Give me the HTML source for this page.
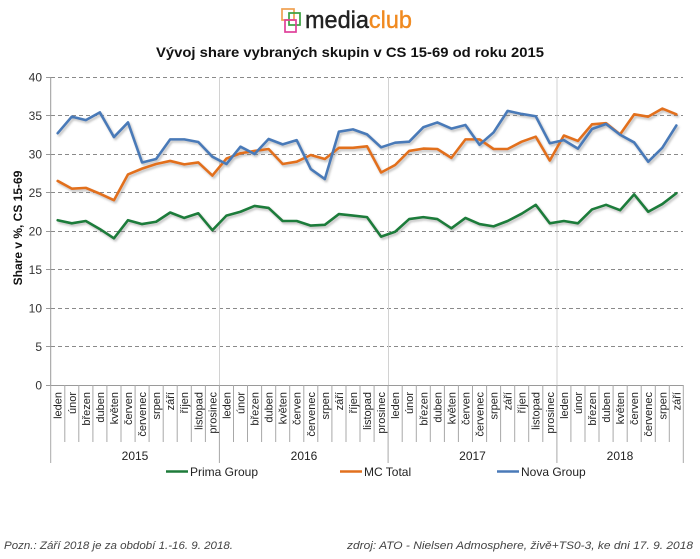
<!DOCTYPE html>
<html><head><meta charset="utf-8">
<style>
html,body{margin:0;padding:0;background:#fff;}
svg{display:block;}
text{font-family:"Liberation Sans",Arial,sans-serif;}
</style></head>
<body>
<svg width="700" height="559" viewBox="0 0 700 559" xmlns="http://www.w3.org/2000/svg">
<defs>
<filter id="sh" x="-5%" y="-5%" width="110%" height="120%">
<feDropShadow dx="1.5" dy="2" stdDeviation="1" flood-color="#777" flood-opacity="0.45"/>
</filter>
</defs>
<rect width="700" height="559" fill="#fff"/>

<!-- logo -->
<g fill="none" stroke-width="1.7">
<rect x="282" y="9" width="12" height="11" stroke="#f0a050"/>
<rect x="289" y="13" width="11" height="12" stroke="#3aa040"/>
<rect x="285" y="20" width="11" height="12" stroke="#e0409a"/>
</g>
<text x="305" y="28" font-size="24" textLength="107" lengthAdjust="spacingAndGlyphs" fill="#222" stroke="#222" stroke-width="0.4">media<tspan fill="#f08a20" stroke="#f08a20">club</tspan></text>

<!-- title -->
<text x="350" y="57" font-size="13.5" font-weight="bold" text-anchor="middle" textLength="388" lengthAdjust="spacingAndGlyphs" fill="#111">Vývoj share vybraných skupin v CS 15-69 od roku 2015</text>

<!-- gridlines -->
<g stroke="#8a8a8a" stroke-width="1" stroke-dasharray="4,3">
<line x1="51" y1="77.5" x2="683" y2="77.5"/>
<line x1="51" y1="115.5" x2="683" y2="115.5"/>
<line x1="51" y1="154.5" x2="683" y2="154.5"/>
<line x1="51" y1="192.5" x2="683" y2="192.5"/>
<line x1="51" y1="231.5" x2="683" y2="231.5"/>
<line x1="51" y1="269.5" x2="683" y2="269.5"/>
<line x1="51" y1="308.5" x2="683" y2="308.5"/>
<line x1="51" y1="346.5" x2="683" y2="346.5"/>
</g>
<!-- year separators in plot -->
<g stroke="#d2d2d2" stroke-width="1">
<line x1="219.5" y1="77" x2="219.5" y2="385"/>
<line x1="388.5" y1="77" x2="388.5" y2="385"/>
<line x1="557" y1="77" x2="557" y2="385"/>
</g>
<!-- axes -->
<g stroke="#9a9a9a" stroke-width="1">
<line x1="50.7" y1="77" x2="50.7" y2="385"/>
<line x1="50.7" y1="385.5" x2="683.3" y2="385.5"/>
<line x1="46" y1="77.5" x2="50.7" y2="77.5"/>
<line x1="46" y1="115.5" x2="50.7" y2="115.5"/>
<line x1="46" y1="154.5" x2="50.7" y2="154.5"/>
<line x1="46" y1="192.5" x2="50.7" y2="192.5"/>
<line x1="46" y1="231.5" x2="50.7" y2="231.5"/>
<line x1="46" y1="269.5" x2="50.7" y2="269.5"/>
<line x1="46" y1="308.5" x2="50.7" y2="308.5"/>
<line x1="46" y1="346.5" x2="50.7" y2="346.5"/>
<line x1="46" y1="385.5" x2="50.7" y2="385.5"/>
</g>
<!-- category separators -->
<g stroke="#a8a8a8" stroke-width="1">
<line x1="50.7" y1="385" x2="50.7" y2="463"/>
<line x1="64.8" y1="385" x2="64.8" y2="442"/>
<line x1="78.8" y1="385" x2="78.8" y2="442"/>
<line x1="92.9" y1="385" x2="92.9" y2="442"/>
<line x1="106.9" y1="385" x2="106.9" y2="442"/>
<line x1="121" y1="385" x2="121" y2="442"/>
<line x1="135.1" y1="385" x2="135.1" y2="442"/>
<line x1="149.1" y1="385" x2="149.1" y2="442"/>
<line x1="163.2" y1="385" x2="163.2" y2="442"/>
<line x1="177.2" y1="385" x2="177.2" y2="442"/>
<line x1="191.3" y1="385" x2="191.3" y2="442"/>
<line x1="205.4" y1="385" x2="205.4" y2="442"/>
<line x1="219.4" y1="385" x2="219.4" y2="463"/>
<line x1="233.5" y1="385" x2="233.5" y2="442"/>
<line x1="247.5" y1="385" x2="247.5" y2="442"/>
<line x1="261.6" y1="385" x2="261.6" y2="442"/>
<line x1="275.7" y1="385" x2="275.7" y2="442"/>
<line x1="289.7" y1="385" x2="289.7" y2="442"/>
<line x1="303.8" y1="385" x2="303.8" y2="442"/>
<line x1="317.8" y1="385" x2="317.8" y2="442"/>
<line x1="331.9" y1="385" x2="331.9" y2="442"/>
<line x1="346" y1="385" x2="346" y2="442"/>
<line x1="360" y1="385" x2="360" y2="442"/>
<line x1="374.1" y1="385" x2="374.1" y2="442"/>
<line x1="388.1" y1="385" x2="388.1" y2="463"/>
<line x1="402.2" y1="385" x2="402.2" y2="442"/>
<line x1="416.3" y1="385" x2="416.3" y2="442"/>
<line x1="430.3" y1="385" x2="430.3" y2="442"/>
<line x1="444.4" y1="385" x2="444.4" y2="442"/>
<line x1="458.4" y1="385" x2="458.4" y2="442"/>
<line x1="472.5" y1="385" x2="472.5" y2="442"/>
<line x1="486.6" y1="385" x2="486.6" y2="442"/>
<line x1="500.6" y1="385" x2="500.6" y2="442"/>
<line x1="514.7" y1="385" x2="514.7" y2="442"/>
<line x1="528.7" y1="385" x2="528.7" y2="442"/>
<line x1="542.8" y1="385" x2="542.8" y2="442"/>
<line x1="556.9" y1="385" x2="556.9" y2="463"/>
<line x1="570.9" y1="385" x2="570.9" y2="442"/>
<line x1="585" y1="385" x2="585" y2="442"/>
<line x1="599" y1="385" x2="599" y2="442"/>
<line x1="613.1" y1="385" x2="613.1" y2="442"/>
<line x1="627.2" y1="385" x2="627.2" y2="442"/>
<line x1="641.2" y1="385" x2="641.2" y2="442"/>
<line x1="655.3" y1="385" x2="655.3" y2="442"/>
<line x1="669.3" y1="385" x2="669.3" y2="442"/>
<line x1="683.3" y1="385" x2="683.3" y2="463"/>
</g>

<!-- y tick labels -->
<g font-size="12" fill="#333" text-anchor="end">
<text x="42" y="81.5">40</text>
<text x="42" y="120">35</text>
<text x="42" y="158.5">30</text>
<text x="42" y="197">25</text>
<text x="42" y="235.5">20</text>
<text x="42" y="274">15</text>
<text x="42" y="312.5">10</text>
<text x="42" y="351">5</text>
<text x="42" y="389.5">0</text>
</g>
<text transform="translate(22 228) rotate(-90)" font-size="12" font-weight="bold" text-anchor="middle" fill="#111">Share v %, CS 15-69</text>

<!-- month labels -->
<g font-size="11" fill="#222" text-anchor="end">
<text transform="translate(61.7 392) rotate(-90)">leden</text>
<text transform="translate(75.8 392) rotate(-90)">únor</text>
<text transform="translate(89.8 392) rotate(-90)">březen</text>
<text transform="translate(103.9 392) rotate(-90)">duben</text>
<text transform="translate(117.9 392) rotate(-90)">květen</text>
<text transform="translate(132 392) rotate(-90)">červen</text>
<text transform="translate(146.1 392) rotate(-90)">červenec</text>
<text transform="translate(160.1 392) rotate(-90)">srpen</text>
<text transform="translate(174.2 392) rotate(-90)">září</text>
<text transform="translate(188.2 392) rotate(-90)">říjen</text>
<text transform="translate(202.3 392) rotate(-90)">listopad</text>
<text transform="translate(216.4 392) rotate(-90)">prosinec</text>
<text transform="translate(230.4 392) rotate(-90)">leden</text>
<text transform="translate(244.5 392) rotate(-90)">únor</text>
<text transform="translate(258.5 392) rotate(-90)">březen</text>
<text transform="translate(272.6 392) rotate(-90)">duben</text>
<text transform="translate(286.7 392) rotate(-90)">květen</text>
<text transform="translate(300.7 392) rotate(-90)">červen</text>
<text transform="translate(314.8 392) rotate(-90)">červenec</text>
<text transform="translate(328.8 392) rotate(-90)">srpen</text>
<text transform="translate(342.9 392) rotate(-90)">září</text>
<text transform="translate(357 392) rotate(-90)">říjen</text>
<text transform="translate(371 392) rotate(-90)">listopad</text>
<text transform="translate(385.1 392) rotate(-90)">prosinec</text>
<text transform="translate(399.1 392) rotate(-90)">leden</text>
<text transform="translate(413.2 392) rotate(-90)">únor</text>
<text transform="translate(427.3 392) rotate(-90)">březen</text>
<text transform="translate(441.3 392) rotate(-90)">duben</text>
<text transform="translate(455.4 392) rotate(-90)">květen</text>
<text transform="translate(469.4 392) rotate(-90)">červen</text>
<text transform="translate(483.5 392) rotate(-90)">červenec</text>
<text transform="translate(497.6 392) rotate(-90)">srpen</text>
<text transform="translate(511.6 392) rotate(-90)">září</text>
<text transform="translate(525.7 392) rotate(-90)">říjen</text>
<text transform="translate(539.7 392) rotate(-90)">listopad</text>
<text transform="translate(553.8 392) rotate(-90)">prosinec</text>
<text transform="translate(567.9 392) rotate(-90)">leden</text>
<text transform="translate(581.9 392) rotate(-90)">únor</text>
<text transform="translate(596 392) rotate(-90)">březen</text>
<text transform="translate(610 392) rotate(-90)">duben</text>
<text transform="translate(624.1 392) rotate(-90)">květen</text>
<text transform="translate(638.2 392) rotate(-90)">červen</text>
<text transform="translate(652.2 392) rotate(-90)">červenec</text>
<text transform="translate(666.3 392) rotate(-90)">srpen</text>
<text transform="translate(680.3 392) rotate(-90)">září</text>
</g>

<!-- year labels -->
<g font-size="12" fill="#222" text-anchor="middle">
<text x="135" y="460">2015</text>
<text x="304" y="460">2016</text>
<text x="472.5" y="460">2017</text>
<text x="620" y="460">2018</text>
</g>

<!-- series -->
<g filter="url(#sh)" fill="none" stroke-linejoin="round" stroke-linecap="round">
<g transform="translate(57.7 385) scale(14.06 -7.7)">
<polyline vector-effect="non-scaling-stroke" stroke="#1e7b3a" stroke-width="2.6" points="0,21.4 1,21.0 2,21.3 3,20.25 4,19.05 5,21.4 6,20.9 7,21.2 8,22.4 9,21.7 10,22.3 11,20.1 12,22.0 13,22.5 14,23.25 15,23.0 16,21.3 17,21.3 18,20.7 19,20.8 20,22.2 21,22.0 22,21.8 23,19.27 24,19.9 25,21.55 26,21.8 27,21.55 28,20.35 29,21.7 30,20.9 31,20.6 32,21.3 33,22.25 34,23.4 35,21.0 36,21.3 37,21.0 38,22.8 39,23.4 40,22.7 41,24.75 42,22.5 43,23.5 44,24.9"/>
<polyline vector-effect="non-scaling-stroke" stroke="#e2701e" stroke-width="2.6" points="0,26.5 1,25.5 2,25.6 3,24.85 4,24.0 5,27.35 6,28.1 7,28.7 8,29.1 9,28.65 10,28.9 11,27.2 12,29.4 13,30.1 14,30.4 15,30.65 16,28.7 17,29.0 18,29.87 19,29.35 20,30.8 21,30.8 22,31.0 23,27.6 24,28.57 25,30.4 26,30.7 27,30.65 28,29.5 29,31.9 30,31.9 31,30.65 32,30.65 33,31.6 34,32.25 35,29.15 36,32.4 37,31.7 38,33.85 39,34.0 40,32.55 41,35.15 42,34.85 43,35.9 44,35.15"/>
<polyline vector-effect="non-scaling-stroke" stroke="#4a7ab8" stroke-width="2.6" points="0,32.7 1,34.85 2,34.4 3,35.4 4,32.2 5,34.1 6,28.9 7,29.35 8,31.9 9,31.9 10,31.56 11,29.65 12,28.7 13,30.95 14,30.0 15,31.95 16,31.25 17,31.8 18,28.05 19,26.75 20,32.9 21,33.2 22,32.55 23,30.87 24,31.47 25,31.6 26,33.47 27,34.1 28,33.3 29,33.77 30,31.2 31,32.8 32,35.6 33,35.2 34,34.9 35,31.4 36,31.8 37,30.7 38,33.25 39,33.9 40,32.5 41,31.5 42,29.0 43,30.8 44,33.7"/>
</g>
</g>

<!-- legend -->
<g stroke-width="2.6">
<line x1="166" y1="471.5" x2="188" y2="471.5" stroke="#1e7b3a"/>
<line x1="340" y1="471.5" x2="362" y2="471.5" stroke="#e2701e"/>
<line x1="497" y1="471.5" x2="519" y2="471.5" stroke="#4a7ab8"/>
</g>
<g font-size="12" fill="#222">
<text x="190" y="476">Prima Group</text>
<text x="364" y="476">MC Total</text>
<text x="521" y="476">Nova Group</text>
</g>

<!-- footer -->
<g font-size="11" font-style="italic" fill="#444">
<text x="4" y="549" textLength="229" lengthAdjust="spacingAndGlyphs">Pozn.: Září 2018 je za období 1.-16. 9. 2018.</text>
<text x="347" y="549" textLength="346" lengthAdjust="spacingAndGlyphs">zdroj: ATO - Nielsen Admosphere, živě+TS0-3, ke dni 17. 9. 2018</text>
</g>
</svg>
</body></html>
